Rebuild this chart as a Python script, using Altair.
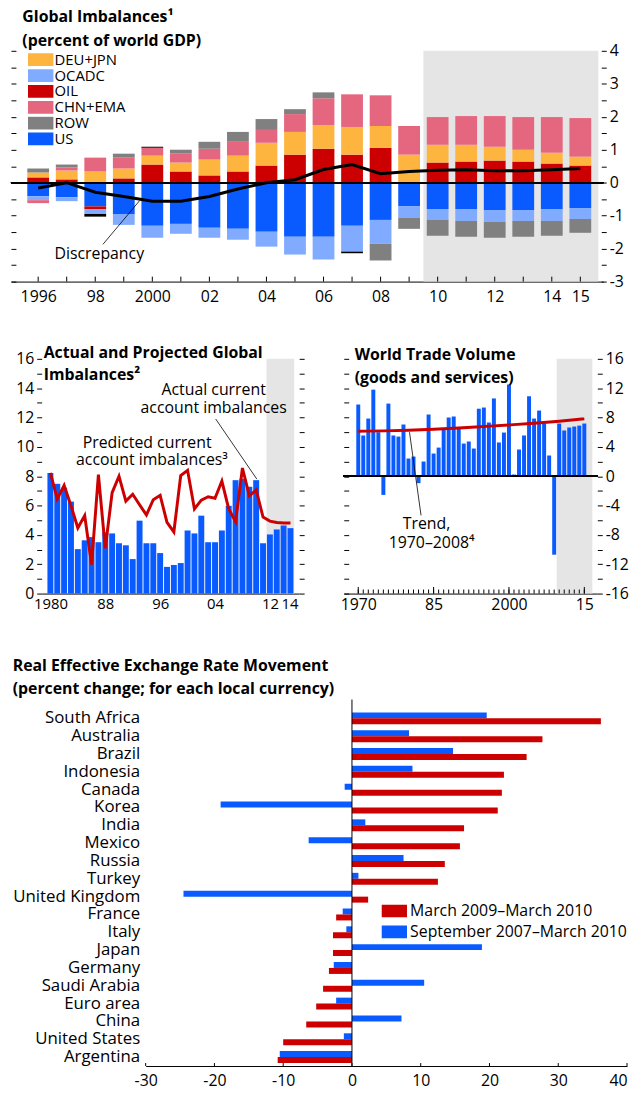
import altair as alt
import pandas as pd

FONT = "Open Sans"
FS = 16
BLUE = "#0A5BFF"
LBLUE = "#80ABFF"
RED = "#CC0000"
ORANGE = "#FDB53F"
PINK = "#E5667F"
GRAY = "#808080"
SHADE = "#E5E5E5"

# ---------------- Panel 1: Global imbalances ----------------
years1 = list(range(1996, 2016))
oil = [0.16, 0.10, -0.08, 0.13, 0.55, 0.34, 0.22, 0.34, 0.52, 0.85, 1.03, 0.85, 1.06, 0.0, 0.61, 0.64, 0.67, 0.64, 0.58, 0.52]
deu_jpn = [0.15, 0.27, 0.34, 0.30, 0.27, 0.27, 0.48, 0.48, 0.69, 0.69, 0.72, 0.84, 0.66, 0.85, 0.54, 0.51, 0.42, 0.36, 0.33, 0.27]
chn_ema = [-0.09, 0.09, 0.42, 0.33, 0.24, 0.27, 0.33, 0.42, 0.39, 0.54, 0.81, 0.99, 0.93, 0.87, 0.84, 0.87, 0.93, 0.99, 1.08, 1.17]
row_ = [0.12, 0.09, 0.0, 0.12, 0.0, 0.12, 0.21, 0.30, 0.33, 0.15, 0.18, 0.0, -0.51, -0.33, -0.48, -0.48, -0.48, -0.48, -0.45, -0.42]
us = [-0.41, -0.44, -0.72, -0.95, -1.31, -1.25, -1.37, -1.40, -1.49, -1.64, -1.64, -1.31, -1.13, -0.71, -0.80, -0.80, -0.83, -0.83, -0.80, -0.77]
ocadc = [-0.12, -0.12, -0.15, -0.33, -0.36, -0.30, -0.30, -0.33, -0.45, -0.54, -0.69, -0.78, -0.72, -0.36, -0.33, -0.36, -0.36, -0.33, -0.36, -0.33]
other = [0, 0, -0.08, 0, 0.03, 0, 0, 0, 0, 0, 0, -0.05, 0, 0, 0, 0, 0, 0, 0, 0]
discrepancy = [-0.16, 0.0, -0.29, -0.42, -0.56, -0.56, -0.42, -0.19, 0.0, 0.09, 0.40, 0.55, 0.27, 0.34, 0.38, 0.39, 0.36, 0.36, 0.39, 0.43]
p1_domain = [1995.22, 2015.63]
p1_shade = [2009.5, 2015.63]
p1_ylim = [-3, 4]
p1_yticks = [v / 2 for v in range(-6, 9)]
p1_note = {"x": [1998.14], "y": [-2.17], "text": ["Discrepancy"]}
p1_leader = {"x": [1998.27], "y": [-1.87], "x2": [1999.56], "y2": [-0.54]}

legend_names = ["DEU+JPN", "OCADC", "OIL", "CHN+EMA", "ROW", "US"]
legend_colors = [ORANGE, LBLUE, RED, PINK, GRAY, BLUE]

series1 = {"US": us, "OIL": oil, "OCADC": ocadc, "DEU+JPN": deu_jpn,
           "CHN+EMA": chn_ema, "ROW": row_, "Other": other}
rows = []
for k, name in enumerate(series1):
    for yr, v in zip(years1, series1[name]):
        if v != 0:
            rows.append({"year": yr, "series": name, "value": v, "order": k})
df1 = pd.DataFrame(rows)
df1d = pd.DataFrame({"year": years1, "disc": discrepancy})

xs1 = alt.Scale(domain=p1_domain, nice=False, zero=False)
ys1 = alt.Scale(domain=p1_ylim, nice=False, zero=False)
xax1 = alt.Axis(values=years1, ticks=False, title=None, labelOverlap=False, labelFlush=False, labelPadding=7,
                labelExpr="(datum.value == 1996 || datum.value == 2000) ? '' + datum.value : ((datum.value % 2 == 0 || datum.value == 2015) ? substring('' + datum.value, 2, 4) : '')")

shade1 = alt.Chart(pd.DataFrame({"a": [p1_shade[0]], "b": [p1_shade[1]]})).mark_rect(color=SHADE).encode(
    x=alt.X("a:Q", scale=xs1, axis=xax1), x2="b:Q",
    y=alt.YDatum(p1_ylim[1], scale=ys1, axis=None), y2=alt.datum(p1_ylim[0]))

bars1 = alt.Chart(df1).mark_bar(size=22).encode(
    x=alt.X("year:Q", scale=xs1, axis=xax1),
    y=alt.Y("value:Q", stack="zero", scale=ys1, axis=alt.Axis(
        orient="right", values=p1_yticks, tickSize=5, offset=-2, domain=False, title=None,
        labelOverlap=False, labelFlush=False, labelPadding=3,
        labelExpr="datum.value % 1 == 0 ? '' + datum.value : ''")),
    color=alt.Color("series:N", scale=alt.Scale(domain=legend_names + ["Other"], range=legend_colors + ["#000000"]),
                    legend=alt.Legend(values=legend_names, title=None, orient="none", legendX=17, legendY=2,
                                      symbolType="M-1,-0.5H1V0.5H-1Z", symbolSize=660, clipHeight=14,
                                      rowPadding=1, labelFontSize=15, labelFont=FONT, labelOffset=1,
                                      symbolStrokeWidth=0, padding=0)),
    order=alt.Order("order:Q"))

zero1 = alt.Chart(df1d).mark_rule(color="black", strokeWidth=1).encode(y=alt.YDatum(0, scale=ys1, axis=None))

disc1 = alt.Chart(df1d).mark_line(color="black", strokeWidth=3).encode(
    x=alt.X("year:Q", scale=xs1, axis=xax1),
    y=alt.Y("disc:Q", scale=ys1, axis=alt.Axis(
        orient="left", values=p1_yticks, labels=False, tickSize=5, offset=-5, domain=False, title=None)))

lead1 = alt.Chart(pd.DataFrame(p1_leader)).mark_rule(color="black", strokeWidth=0.8).encode(
    x=alt.X("x:Q", scale=xs1, axis=xax1), y=alt.Y("y:Q", scale=ys1, axis=None), x2="x2:Q", y2="y2:Q")
text1 = alt.Chart(pd.DataFrame(p1_note)).mark_text(font=FONT, fontSize=FS, align="center", baseline="middle", color="black").encode(
    x=alt.X("x:Q", scale=xs1, axis=xax1), y=alt.Y("y:Q", scale=ys1, axis=None), text="text:N")
ticks1 = alt.Chart(pd.DataFrame({"year": years1})).mark_rule(color="black", strokeWidth=1).encode(
    x=alt.X("year:Q", scale=xs1, axis=xax1), y=alt.YDatum(-3, scale=ys1, axis=None), y2=alt.datum(-2.85))

p1 = alt.layer(shade1, bars1, zero1, disc1, lead1, text1, ticks1).resolve_axis(y="independent").properties(
    width=598, height=233,
    title=alt.Title(["Global Imbalances¹", "(percent of world GDP)"], anchor="start", offset=-6, dx=12, lineHeight=24))

# ---------------- Panel 2: Actual and projected imbalances ----------------
years2 = list(range(1980, 2016))
actual2 = [8.22, 7.48, 7.21, 6.27, 3.03, 3.63, 3.85, 3.50, 4.17, 4.10,
           3.43, 3.29, 2.35, 4.97, 3.43, 3.43, 2.76, 1.82, 1.95, 2.08,
           4.30, 4.10, 5.31, 3.50, 3.50, 4.30, 5.98, 7.73, 7.82, 7.28,
           7.73, 3.43, 4.03, 4.37, 4.64, 4.46]
pred2 = [8.22, 6.44, 7.37, 5.99, 4.47, 5.32, 1.97, 8.10, 3.08, 6.88,
         8.00, 6.30, 6.77, 6.05, 5.36, 6.40, 6.70, 4.85, 4.20, 8.04,
         8.40, 5.77, 6.37, 6.60, 6.50, 7.67, 5.77, 4.90, 8.56, 6.66,
         7.06, 5.21, 4.94, 4.85, 4.81, 4.81]
p2_domain = [1979.45, 2015.55]
p2_shade = [2011.5, 2015.55]
p2_ylim = [0, 16]
p2_label_pos = [1980, 1988, 1996, 2004, 2012.0, 2014.85]
p2_notes = {"x": [2003.8, 2003.8, 1994.1, 1994.8],
            "y": [13.9, 12.64, 10.28, 9.07],
            "text": ["Actual current", "account imbalances", "Predicted current", "account imbalances³"]}
p2_leader = {"x": [2004.1], "y": [11.9], "x2": [2010.1], "y2": [7.8]}

df2 = pd.DataFrame({"year": years2, "actual": actual2, "pred": pred2})
xs2 = alt.Scale(domain=p2_domain, nice=False, zero=False)
ys2 = alt.Scale(domain=p2_ylim, nice=False)
y2ticks = list(range(0, 17))
xax2 = alt.Axis(values=p2_label_pos, ticks=False, title=None, labelOverlap=False, labelFlush=False, labelPadding=3,
                labelFontSize=15,
                labelExpr="datum.value == 1980 ? '1980' : substring('' + floor(datum.value), 2, 4)")

shade2 = alt.Chart(pd.DataFrame({"a": [p2_shade[0]], "b": [p2_shade[1]]})).mark_rect(color=SHADE).encode(
    x=alt.X("a:Q", scale=xs2, axis=xax2), x2="b:Q",
    y=alt.YDatum(p2_ylim[1], scale=ys2, axis=None), y2=alt.datum(p2_ylim[0]))
bars2 = alt.Chart(df2).mark_bar(size=6, color=BLUE).encode(
    x=alt.X("year:Q", scale=xs2, axis=xax2),
    y=alt.Y("actual:Q", scale=ys2, axis=alt.Axis(
        orient="left", values=y2ticks, tickSize=5, domain=False, title=None, labelOverlap=False,
        labelFlush=False, labelPadding=3, labelExpr="datum.value % 2 == 0 ? '' + datum.value : ''")))
line2 = alt.Chart(df2).mark_line(color=RED, strokeWidth=3).encode(
    x=alt.X("year:Q", scale=xs2, axis=xax2),
    y=alt.Y("pred:Q", scale=ys2, axis=alt.Axis(
        orient="right", values=y2ticks, labels=False, tickSize=5, domain=False, title=None)))
lead2 = alt.Chart(pd.DataFrame(p2_leader)).mark_rule(color="black", strokeWidth=0.8).encode(
    x=alt.X("x:Q", scale=xs2, axis=xax2), y=alt.Y("y:Q", scale=ys2, axis=None), x2="x2:Q", y2="y2:Q")
text2 = alt.Chart(pd.DataFrame(p2_notes)).mark_text(font=FONT, fontSize=FS, align="center", baseline="middle", color="black").encode(
    x=alt.X("x:Q", scale=xs2, axis=xax2), y=alt.Y("y:Q", scale=ys2, axis=None), text="text:N")

p2 = alt.layer(shade2, bars2, line2, lead2, text2).resolve_axis(y="independent").properties(
    width=260, height=237,
    title=alt.Title(["Actual and Projected Global", "Imbalances²"], anchor="start", frame="group",
                    offset=-32, dx=2, lineHeight=22))

# ---------------- Panel 3: World trade volume ----------------
years3 = list(range(1970, 2016))
trade3 = [9.77, 5.55, 7.86, 11.8, 6.0, -2.55, 9.9, 5.55, 5.4, 7.05,
          2.41, 2.68, -0.95, 2.0, 8.41, 3.09, 3.9, 6.3, 8.0, 8.14,
          6.5, 4.45, 4.73, 3.77, 9.2, 9.36, 7.32, 10.6, 4.6, 5.95,
          12.5, 0.23, 3.64, 5.55, 10.9, 7.86, 8.95, 7.2, 2.82, -10.7,
          7.18, 6.23, 6.64, 6.77, 6.9, 7.18]
trend_years = [1970, 1975, 1980, 1985, 1990, 1995, 2000, 2005, 2010, 2015]
trend_vals = [6.13, 6.18, 6.27, 6.40, 6.58, 6.78, 6.99, 7.22, 7.50, 7.82]
p3_domain = [1968.1, 2016.6]
p3_shade = [2009.5, 2016.6]
p3_ylim = [-16, 16]
p3_labels = [1970, 1985, 2000, 2015]
p3_notes = {"x": [1983.6, 1984.6], "y": [-6.58, -9.17], "text": ["Trend,", "1970–2008⁴"]}
p3_leader = {"x": [1982.5], "y": [-5.35], "x2": [1980.2], "y2": [6.0]}

df3 = pd.DataFrame({"year": years3, "trade": trade3})
xs3 = alt.Scale(domain=p3_domain, nice=False, zero=False)
ys3 = alt.Scale(domain=p3_ylim, nice=False)
y3ticks = list(range(-16, 17, 2))
xax3 = alt.Axis(values=p3_labels, ticks=False, title=None, labelOverlap=False, labelFlush=False, labelPadding=3,
                labelExpr="(datum.value == 1970 || datum.value == 2000) ? '' + datum.value : substring('' + datum.value, 2, 4)")

shade3 = alt.Chart(pd.DataFrame({"a": [p3_shade[0]], "b": [p3_shade[1]]})).mark_rect(color=SHADE).encode(
    x=alt.X("a:Q", scale=xs3, axis=xax3), x2="b:Q",
    y=alt.YDatum(p3_ylim[1], scale=ys3, axis=None), y2=alt.datum(p3_ylim[0]))
bars3 = alt.Chart(df3).mark_bar(size=4, color=BLUE).encode(
    x=alt.X("year:Q", scale=xs3, axis=xax3),
    y=alt.Y("trade:Q", scale=ys3, axis=alt.Axis(
        orient="right", values=y3ticks, tickSize=5, domain=False, title=None, labelOverlap=False,
        labelFlush=False, labelPadding=3, labelExpr="datum.value % 4 == 0 ? '' + datum.value : ''")))
zero3 = alt.Chart(df3).mark_rule(color="black", strokeWidth=1).encode(y=alt.YDatum(0, scale=ys3, axis=None))
trend3 = alt.Chart(pd.DataFrame({"year": trend_years, "trend": trend_vals})).mark_line(
    color=RED, strokeWidth=3, interpolate="monotone").encode(
    x=alt.X("year:Q", scale=xs3, axis=xax3),
    y=alt.Y("trend:Q", scale=ys3, axis=alt.Axis(
        orient="left", values=y3ticks, labels=False, tickSize=5, offset=-5, domain=False, title=None)))
lead3 = alt.Chart(pd.DataFrame(p3_leader)).mark_rule(color="black", strokeWidth=0.8).encode(
    x=alt.X("x:Q", scale=xs3, axis=xax3), y=alt.Y("y:Q", scale=ys3, axis=None), x2="x2:Q", y2="y2:Q")
text3 = alt.Chart(pd.DataFrame(p3_notes)).mark_text(font=FONT, fontSize=FS, align="center", baseline="middle", color="black").encode(
    x=alt.X("x:Q", scale=xs3, axis=xax3), y=alt.Y("y:Q", scale=ys3, axis=None), text="text:N")
minor3 = alt.Chart(pd.DataFrame({"year": years3})).mark_rule(color="black", strokeWidth=1).encode(
    x=alt.X("year:Q", scale=xs3, axis=xax3), y=alt.YDatum(-16, scale=ys3, axis=None), y2=alt.datum(-15.45))
major3 = alt.Chart(pd.DataFrame({"year": p3_labels})).mark_rule(color="black", strokeWidth=1).encode(
    x=alt.X("year:Q", scale=xs3, axis=xax3), y=alt.YDatum(-16, scale=ys3, axis=None), y2=alt.datum(-15.1))

p3 = alt.layer(shade3, bars3, zero3, trend3, lead3, text3, minor3, major3).resolve_axis(y="independent").properties(
    width=256, height=237,
    title=alt.Title(["World Trade Volume", "(goods and services)"], anchor="start", frame="group",
                    offset=-35, dx=11, lineHeight=23))

# ---------------- Panel 4: Real effective exchange rates ----------------
countries = ["South Africa", "Australia", "Brazil", "Indonesia", "Canada", "Korea", "India", "Mexico",
             "Russia", "Turkey", "United Kingdom", "France", "Italy", "Japan", "Germany", "Saudi Arabia",
             "Euro area", "China", "United States", "Argentina"]
sep07_mar10 = [19.6, 8.3, 14.7, 8.8, -1.06, -19.1, 1.94, -6.3, 7.5, 0.94,
               -24.5, -1.35, -0.82, 18.9, -2.65, 10.5, -2.3, 7.2, -1.18, -10.5]
mar09_mar10 = [36.2, 27.7, 25.4, 22.1, 21.8, 21.2, 16.3, 15.7, 13.5, 12.5,
               2.35, -2.3, -2.76, -2.76, -3.35, -4.2, -5.2, -6.65, -10.0, -10.8]
SER_A = "March 2009–March 2010"
SER_B = "September 2007–March 2010"
p4_xticks = list(range(-30, 41, 10))

df4 = pd.DataFrame(
    [{"country": c, "period": SER_B, "value": v} for c, v in zip(countries, sep07_mar10)] +
    [{"country": c, "period": SER_A, "value": v} for c, v in zip(countries, mar09_mar10)])
xs4 = alt.Scale(domain=[-30, 40], nice=False)
xax4 = alt.Axis(values=p4_xticks, ticks=False, title=None, labelFlush=False, labelPadding=7,
                labelAlign={"condition": {"test": "datum.value == 40", "value": "right"}, "value": "center"},
                labelExpr="'' + datum.value")
H4 = 360

bars4 = alt.Chart(df4).mark_bar().encode(
    y=alt.Y("country:N", sort=countries, scale=alt.Scale(paddingInner=0.33, paddingOuter=0.165),
            axis=alt.Axis(title=None, ticks=False, domain=False, labelPadding=6, labelFontSize=17)),
    yOffset=alt.YOffset("period:N", sort=[SER_B, SER_A]),
    x=alt.X("value:Q", scale=xs4, axis=xax4),
    color=alt.Color("period:N", scale=alt.Scale(domain=[SER_A, SER_B], range=[RED, BLUE]),
                    legend=alt.Legend(title=None, orient="none", legendX=374, legendY=196,
                                      symbolType="M-1,-0.5H1V0.5H-1Z", symbolSize=660, clipHeight=15,
                                      rowPadding=4, labelFontSize=FS, labelFont=FONT, labelOffset=3,
                                      symbolStrokeWidth=0, padding=0, labelLimit=400)))
zero4 = alt.Chart(pd.DataFrame({"v": [0]})).mark_rule(color="black", strokeWidth=1).encode(
    x=alt.X("v:Q", scale=xs4, axis=xax4), y=alt.value(-10), y2=alt.value(H4))
ticks4 = alt.Chart(pd.DataFrame({"v": p4_xticks})).mark_rule(color="black", strokeWidth=1).encode(
    x=alt.X("v:Q", scale=xs4, axis=xax4), y=alt.value(H4 - 3), y2=alt.value(H4))

p4 = alt.layer(bars4, zero4, ticks4).properties(
    width=486, height=H4,
    title=alt.Title(["Real Effective Exchange Rate Movement", "(percent change; for each local currency)"],
                    anchor="start", offset=2, lineHeight=23))


def spacer(w):
    return alt.Chart(pd.DataFrame({"s": [0]})).mark_rect(opacity=0).properties(width=w, height=1)


mid = alt.hconcat(spacer(4), alt.hconcat(p2, p3, spacing=35), spacing=0)
bottom = alt.hconcat(spacer(1), p4, spacing=0)
upper = alt.vconcat(p1, mid, spacing=41)
chart = alt.vconcat(upper, bottom, spacing=46).resolve_scale(color="independent").properties(
    padding={"left": 2, "top": -4, "right": 0, "bottom": -4}
).configure_view(stroke=None).configure_title(
    font=FONT, fontSize=16, fontWeight="bold", color="black", anchor="start"
).configure_axis(
    labelFont=FONT, labelFontSize=FS, labelColor="black", tickColor="black", domainColor="black", grid=False
)

chart.save("out.html", embed_options={"renderer": "svg", "actions": False})
